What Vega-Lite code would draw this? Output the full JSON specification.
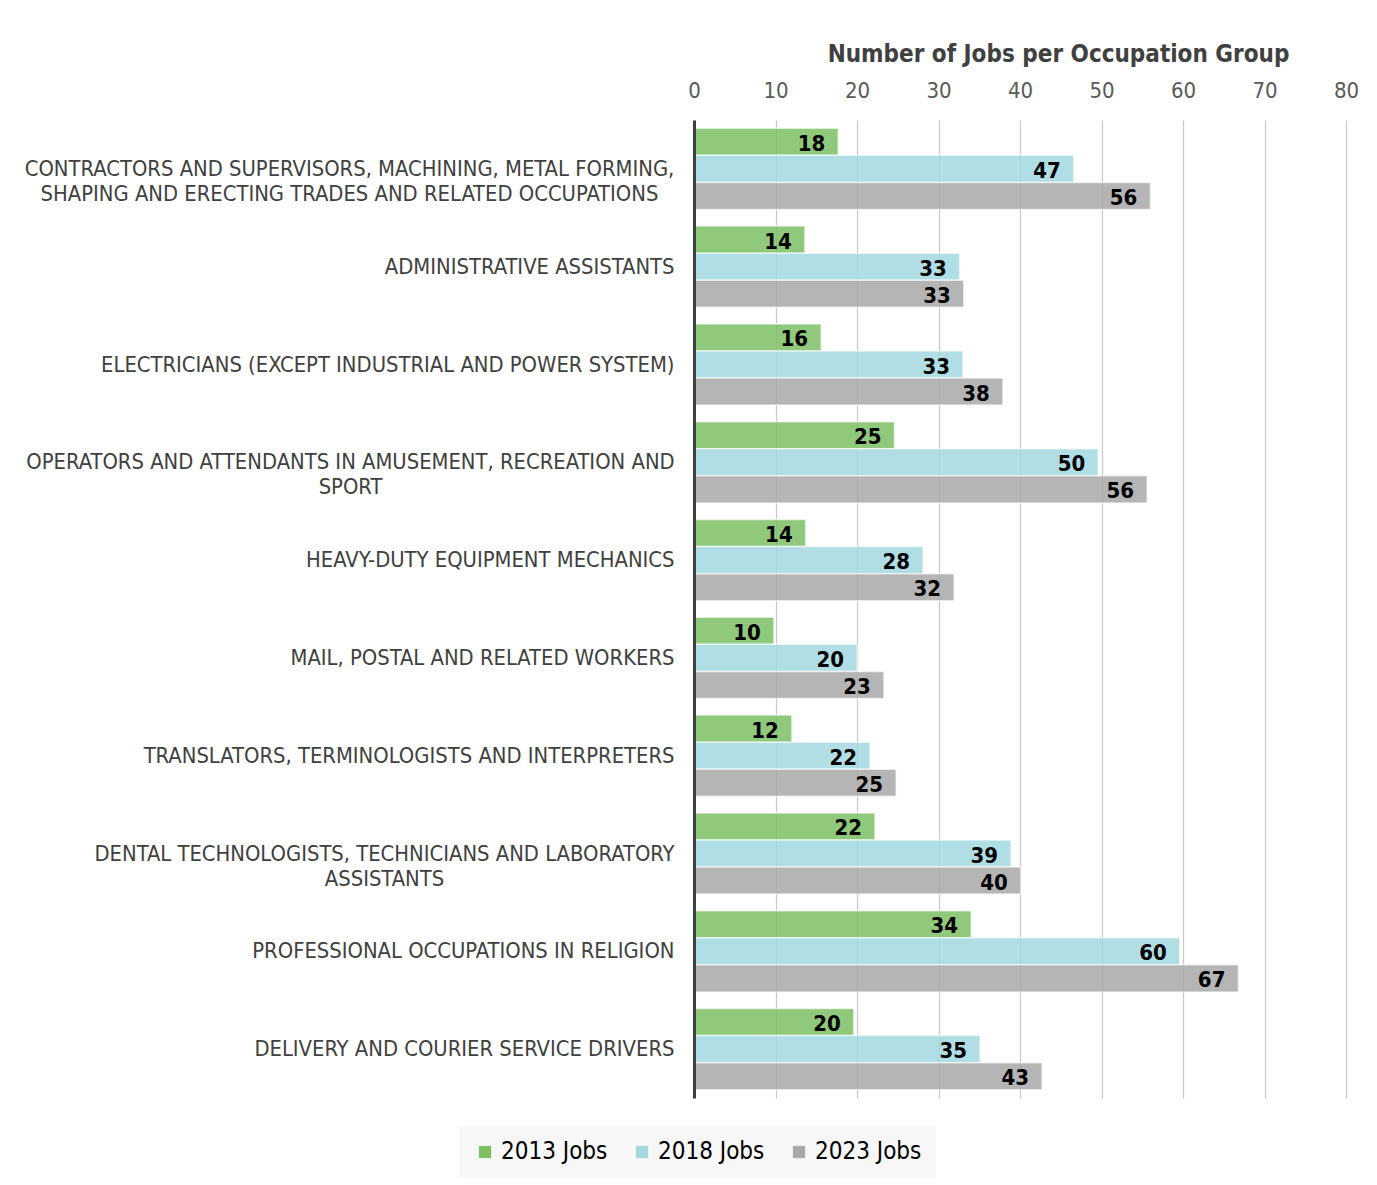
{
  "$schema": "https://vega.github.io/schema/vega-lite/v6.json",
  "width": 652,
  "height": 978,
  "autosize": {"type": "none"},
  "padding": {"left": 694, "top": 120, "right": 31, "bottom": 87},
  "background": "white",
  "config": {"view": {"stroke": null}, "font": "DejaVu Sans Condensed, DejaVu Sans, sans-serif"},
  "data": {
    "values": [
      {"ord": 1, "occ": "CONTRACTORS AND SUPERVISORS, MACHINING, METAL FORMING,|SHAPING AND ERECTING TRADES AND RELATED OCCUPATIONS", "series": "2013 Jobs", "value": 17.7},
      {"ord": 1, "occ": "CONTRACTORS AND SUPERVISORS, MACHINING, METAL FORMING,|SHAPING AND ERECTING TRADES AND RELATED OCCUPATIONS", "series": "2018 Jobs", "value": 46.6},
      {"ord": 1, "occ": "CONTRACTORS AND SUPERVISORS, MACHINING, METAL FORMING,|SHAPING AND ERECTING TRADES AND RELATED OCCUPATIONS", "series": "2023 Jobs", "value": 56.0},
      {"ord": 2, "occ": "ADMINISTRATIVE ASSISTANTS", "series": "2013 Jobs", "value": 13.6},
      {"ord": 2, "occ": "ADMINISTRATIVE ASSISTANTS", "series": "2018 Jobs", "value": 32.6},
      {"ord": 2, "occ": "ADMINISTRATIVE ASSISTANTS", "series": "2023 Jobs", "value": 33.1},
      {"ord": 3, "occ": "ELECTRICIANS (EXCEPT INDUSTRIAL AND POWER SYSTEM)", "series": "2013 Jobs", "value": 15.6},
      {"ord": 3, "occ": "ELECTRICIANS (EXCEPT INDUSTRIAL AND POWER SYSTEM)", "series": "2018 Jobs", "value": 33.0},
      {"ord": 3, "occ": "ELECTRICIANS (EXCEPT INDUSTRIAL AND POWER SYSTEM)", "series": "2023 Jobs", "value": 37.9},
      {"ord": 4, "occ": "OPERATORS AND ATTENDANTS IN AMUSEMENT, RECREATION AND|SPORT", "series": "2013 Jobs", "value": 24.6},
      {"ord": 4, "occ": "OPERATORS AND ATTENDANTS IN AMUSEMENT, RECREATION AND|SPORT", "series": "2018 Jobs", "value": 49.6},
      {"ord": 4, "occ": "OPERATORS AND ATTENDANTS IN AMUSEMENT, RECREATION AND|SPORT", "series": "2023 Jobs", "value": 55.6},
      {"ord": 5, "occ": "HEAVY-DUTY EQUIPMENT MECHANICS", "series": "2013 Jobs", "value": 13.7},
      {"ord": 5, "occ": "HEAVY-DUTY EQUIPMENT MECHANICS", "series": "2018 Jobs", "value": 28.1},
      {"ord": 5, "occ": "HEAVY-DUTY EQUIPMENT MECHANICS", "series": "2023 Jobs", "value": 31.9},
      {"ord": 6, "occ": "MAIL, POSTAL AND RELATED WORKERS", "series": "2013 Jobs", "value": 9.8},
      {"ord": 6, "occ": "MAIL, POSTAL AND RELATED WORKERS", "series": "2018 Jobs", "value": 20.0},
      {"ord": 6, "occ": "MAIL, POSTAL AND RELATED WORKERS", "series": "2023 Jobs", "value": 23.3},
      {"ord": 7, "occ": "TRANSLATORS, TERMINOLOGISTS AND INTERPRETERS", "series": "2013 Jobs", "value": 12.0},
      {"ord": 7, "occ": "TRANSLATORS, TERMINOLOGISTS AND INTERPRETERS", "series": "2018 Jobs", "value": 21.6},
      {"ord": 7, "occ": "TRANSLATORS, TERMINOLOGISTS AND INTERPRETERS", "series": "2023 Jobs", "value": 24.8},
      {"ord": 8, "occ": "DENTAL TECHNOLOGISTS, TECHNICIANS AND LABORATORY|ASSISTANTS", "series": "2013 Jobs", "value": 22.2},
      {"ord": 8, "occ": "DENTAL TECHNOLOGISTS, TECHNICIANS AND LABORATORY|ASSISTANTS", "series": "2018 Jobs", "value": 38.9},
      {"ord": 8, "occ": "DENTAL TECHNOLOGISTS, TECHNICIANS AND LABORATORY|ASSISTANTS", "series": "2023 Jobs", "value": 40.1},
      {"ord": 9, "occ": "PROFESSIONAL OCCUPATIONS IN RELIGION", "series": "2013 Jobs", "value": 34.0},
      {"ord": 9, "occ": "PROFESSIONAL OCCUPATIONS IN RELIGION", "series": "2018 Jobs", "value": 59.6},
      {"ord": 9, "occ": "PROFESSIONAL OCCUPATIONS IN RELIGION", "series": "2023 Jobs", "value": 66.8},
      {"ord": 10, "occ": "DELIVERY AND COURIER SERVICE DRIVERS", "series": "2013 Jobs", "value": 19.6},
      {"ord": 10, "occ": "DELIVERY AND COURIER SERVICE DRIVERS", "series": "2018 Jobs", "value": 35.1},
      {"ord": 10, "occ": "DELIVERY AND COURIER SERVICE DRIVERS", "series": "2023 Jobs", "value": 42.7}
    ]
  },
  "encoding": {
    "y": {
      "field": "occ",
      "type": "nominal",
      "sort": {"field": "ord", "op": "min"},
      "scale": {"paddingInner": 0.17, "paddingOuter": 0.085},
      "axis": {
        "title": null,
        "zindex": 1,
        "domain": true,
        "domainColor": "#404040",
        "domainWidth": 3,
        "ticks": false,
        "grid": false,
        "labelFont": "DejaVu Sans Condensed",
        "labelFontSize": 21.8,
        "labelColor": "#404040",
        "labelLimit": 0,
        "labelLineHeight": 25,
        "labelExpr": "split(datum.label, '|')",
        "labelAlign": {"condition": {"test": "indexof(datum.value, '|') >= 0", "value": "center"}, "value": "right"},
        "labelPadding": {
          "condition": [
            {"test": "indexof(datum.value, 'DENTAL') >= 0", "value": 310},
            {"test": "indexof(datum.value, 'OPERATORS') >= 0", "value": 344},
            {"test": "indexof(datum.value, 'CONTRACTORS') >= 0", "value": 345}
          ],
          "value": 20
        }
      }
    },
    "yOffset": {"field": "series", "type": "nominal", "scale": {"paddingInner": 0, "paddingOuter": 0}},
    "x": {
      "field": "value",
      "type": "quantitative",
      "scale": {"domain": [0, 80], "nice": false},
      "axis": {
        "orient": "top",
        "values": [0, 10, 20, 30, 40, 50, 60, 70, 80],
        "title": "Number of Jobs per Occupation Group",
        "titleFont": "DejaVu Sans Condensed",
        "titleFontSize": 24,
        "titleFontWeight": "bold",
        "titleColor": "#404040",
        "titleX": 364,
        "titleAlign": "center",
        "titlePadding": 13,
        "labelFont": "DejaVu Sans Condensed",
        "labelFontSize": 22,
        "labelColor": "#595959",
        "labelPadding": 18,
        "labelFlush": false,
        "ticks": false,
        "domain": false,
        "grid": true,
        "gridColor": "#C8C8C8",
        "gridWidth": 1.2
      }
    }
  },
  "layer": [
    {
      "mark": {"type": "bar", "fillOpacity": 0.85, "stroke": "#ffffff", "strokeOpacity": 0.6, "strokeWidth": 1.5},
      "encoding": {
        "color": {
          "field": "series",
          "type": "nominal",
          "scale": {"domain": ["2013 Jobs", "2018 Jobs", "2023 Jobs"], "range": ["#7CC064", "#A3D8DF", "#A8A8A8"]},
          "legend": {
            "title": null,
            "orient": "none",
            "direction": "horizontal",
            "legendX": -235,
            "legendY": 1006,
            "fillColor": "#F7F7F7",
            "padding": 14,
            "symbolType": "square",
            "symbolSize": 150,
            "symbolStrokeWidth": 0,
            "labelFont": "DejaVu Sans Condensed",
            "labelFontSize": 24,
            "labelColor": "#000000",
            "labelOffset": 4,
            "columnPadding": 22
          }
        }
      }
    },
    {
      "mark": {"type": "text", "align": "right", "baseline": "middle", "dx": -13, "dy": 2, "fontSize": 22, "fontWeight": "bold", "color": "#000000", "font": "DejaVu Sans Condensed"},
      "encoding": {
        "text": {"field": "value", "type": "quantitative", "format": ".0f"}
      }
    }
  ]
}
